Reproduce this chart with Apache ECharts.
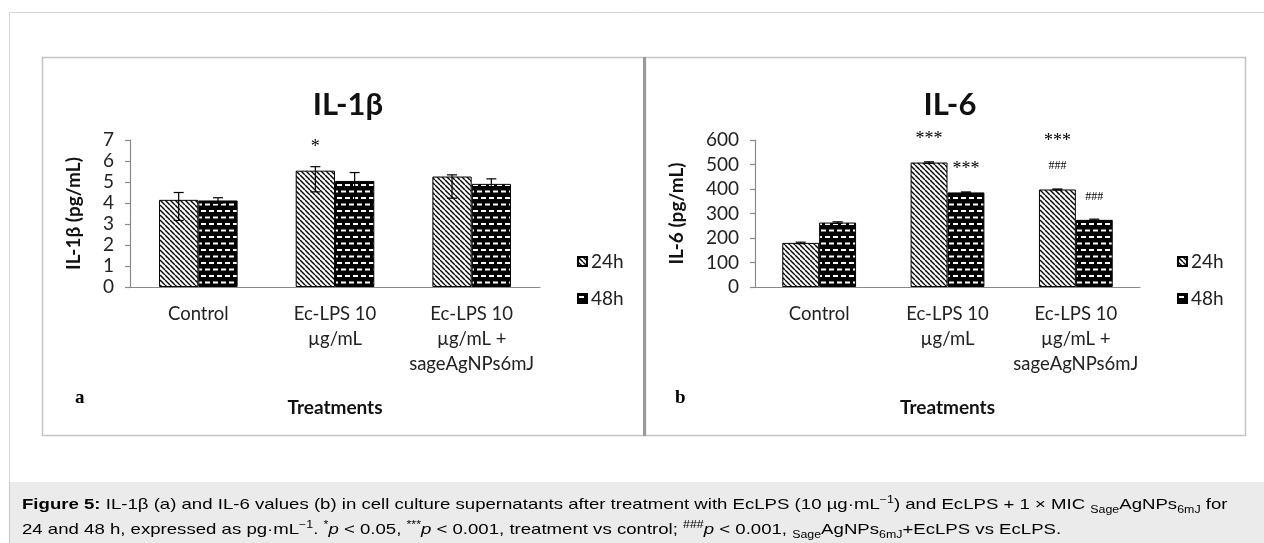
<!DOCTYPE html>
<html>
<head>
<meta charset="utf-8">
<style>
  html, body { margin: 0; padding: 0; background: #fff; }
  #chart { width: 1264px; height: 543px; }
</style>
<script src="https://cdn.jsdelivr.net/npm/echarts@6/dist/echarts.min.js"></script>
</head>
<body>
<div id="chart"></div>
<script>
  // categories of both panels
  const categories = ['Control', 'Ec-LPS 10\nµg/mL', 'Ec-LPS 10\nµg/mL +\nsageAgNPs6mJ']
  const seriesNames = ['24h', '48h']

  // panel a, IL-1β (pg/mL)
  const il1b24 = [4.15, 5.54, 5.26]
  const il1b24Low = [3.17, 4.53, 4.23]
  const il1b24High = [4.50, 5.73, 5.34]
  const il1b48 = [4.12, 5.05, 4.91]
  const il1b48Low = [3.99, 4.05, 4.67]
  const il1b48High = [4.25, 5.45, 5.15]
  const il1bNotes24 = ['', '*', '']
  const il1bNotes48 = ['', '', '']

  // panel b, IL-6 (pg/mL)
  const il624 = [180, 508, 398]
  const il624Low = [177, 505, 396]
  const il624High = [183, 511, 400]
  const il648 = [263, 386, 274]
  const il648Low = [260, 384, 272]
  const il648High = [266, 388, 277]
  const il6Notes24 = ['', '***', '***\n{h|###}']
  const il6Notes48 = ['', '***', '{h|###}']

  const il1bTicks = { min: 0, max: 7, interval: 1 }
  const il6Ticks = { min: 0, max: 600, interval: 100 }

  const FONT = 'Lato'
  const AXIS_GREY = '#8a8a8a'

  // diagonal hatch for 24h
  const makeHatch = () => {
    const c = document.createElement('canvas')
    const s = 5
    c.width = s
    c.height = s
    const ctx = c.getContext('2d')
    ctx.fillStyle = '#fff'
    ctx.fillRect(0, 0, s, s)
    ctx.strokeStyle = '#000'
    ctx.lineWidth = 1.4
    for (let k = -1; k <= 1; k++) {
      ctx.beginPath()
      ctx.moveTo(0, k * s)
      ctx.lineTo(s, s + k * s)
      ctx.stroke()
    }
    return c
  }

  // black with white dashes for 48h
  const makeDashes = () => {
    const c = document.createElement('canvas')
    c.width = 8
    c.height = 13
    const ctx = c.getContext('2d')
    ctx.fillStyle = '#000'
    ctx.fillRect(0, 0, 8, 13)
    ctx.fillStyle = '#fff'
    ctx.fillRect(1, 2, 5, 2)
    ctx.fillRect(5, 8.5, 3, 2)
    ctx.fillRect(0, 8.5, 2, 2)
    return c
  }

  const pattern24 = { image: makeHatch(), repeat: 'repeat' }
  const pattern48 = { image: makeDashes(), repeat: 'repeat' }

  const barSeries = (idx, name, values, notes, pattern) => ({
    type: 'bar',
    name: name,
    xAxisIndex: idx,
    yAxisIndex: idx,
    barGap: '0%',
    barCategoryGap: '42.5%',
    data: values,
    itemStyle: { color: pattern, borderColor: '#000', borderWidth: 1 },
    label: {
      show: true,
      position: 'top',
      distance: 11,
      color: '#000',
      fontFamily: 'Liberation Serif',
      fontSize: 18,
      lineHeight: 25,
      formatter: (p) => notes[p.dataIndex],
      rich: { h: { fontFamily: 'Liberation Serif', fontSize: 12, lineHeight: 25 } }
    },
    emphasis: { disabled: true }
  })

  // error bars drawn over the bar of one series (side -1 = left bar, 1 = right bar)
  const errorSeries = (idx, low, high, side) => ({
    type: 'custom',
    xAxisIndex: idx,
    yAxisIndex: idx,
    z: 5,
    silent: true,
    data: low.map((l, i) => [i, l, high[i]]),
    encode: { x: 0, y: [1, 2] },
    renderItem: (params, api) => {
      const band = api.size([1, 0])[0]
      const top = api.coord([api.value(0), api.value(2)])
      const bot = api.coord([api.value(0), api.value(1)])
      const x = top[0] + side * band * 0.14375
      const st = { stroke: '#000', lineWidth: 1.2 }
      return {
        type: 'group',
        children: [
          { type: 'line', shape: { x1: x, y1: top[1], x2: x, y2: bot[1] }, style: st },
          { type: 'line', shape: { x1: x - 5, y1: top[1], x2: x + 5, y2: top[1] }, style: st },
          { type: 'line', shape: { x1: x - 5, y1: bot[1], x2: x + 5, y2: bot[1] }, style: st }
        ]
      }
    }
  })

  const xAxisCfg = (idx) => ({
    type: 'category',
    gridIndex: idx,
    data: categories,
    axisLine: { lineStyle: { color: AXIS_GREY, width: 1.2 } },
    axisTick: { length: 6, lineStyle: { color: AXIS_GREY, width: 1.2 } },
    axisLabel: { interval: 0, color: '#222', fontFamily: FONT, fontSize: 18.5, lineHeight: 25, margin: 15 },
    name: 'Treatments',
    nameLocation: 'middle',
    nameGap: 111,
    nameTextStyle: { color: '#111', fontFamily: FONT, fontWeight: 'bold', fontSize: 19 }
  })

  const yAxisCfg = (idx, ticks, name, gap) => ({
    type: 'value',
    gridIndex: idx,
    min: ticks.min,
    max: ticks.max,
    interval: ticks.interval,
    axisLine: { show: true, lineStyle: { color: AXIS_GREY, width: 1.2 } },
    axisTick: { show: true, length: 5, lineStyle: { color: AXIS_GREY, width: 1.2 } },
    splitLine: { show: false },
    axisLabel: { color: '#222', fontFamily: FONT, fontSize: 19, margin: 16 },
    name: name,
    nameLocation: 'middle',
    nameRotate: 90,
    nameGap: gap,
    nameTextStyle: { color: '#111', fontFamily: FONT, fontWeight: 'bold', fontSize: 19 }
  })

  const legendCfg = (left) => ({
    data: seriesNames,
    orient: 'vertical',
    left: left,
    top: 247,
    itemWidth: 9,
    itemHeight: 9,
    itemGap: 18,
    icon: 'rect',
    selectedMode: false,
    textStyle: { color: '#222', fontFamily: FONT, fontSize: 19, padding: [0, 0, 0, -1] }
  })

  const CAP_FONT = 'Liberation Sans'
  const captionRich = {
    b: { fontFamily: CAP_FONT, fontSize: 15, fontWeight: 'bold', color: '#222' },
    t: { fontFamily: CAP_FONT, fontSize: 15, color: '#222' },
    i: { fontFamily: CAP_FONT, fontSize: 15, fontStyle: 'italic', color: '#222' },
    sup: { fontFamily: CAP_FONT, fontSize: 10, color: '#222', verticalAlign: 'top' },
    sub: { fontFamily: CAP_FONT, fontSize: 10, color: '#222', verticalAlign: 'bottom' }
  }
  const captionLine1 = '{b|Figure 5:}{t| IL-1β (a) and IL-6 values (b) in cell culture supernatants after treatment with EcLPS (10 µg·mL}{sup|−1}{t|) and EcLPS + 1 × MIC }{sub|Sage}{t|AgNPs}{sub|6mJ}{t| for}'
  const captionLine2 = '{t|24 and 48 h, expressed as pg·mL}{sup|−1}{t|. }{sup|*}{i|p}{t| < 0.05, }{sup|***}{i|p}{t| < 0.001, treatment vs control; }{sup|###}{i|p}{t| < 0.001, }{sub|Sage}{t|AgNPs}{sub|6mJ}{t|+EcLPS vs EcLPS.}'

  const chartDom = echarts.init(document.getElementById('chart'))
  chartDom.setOption({
    animation: false,
    backgroundColor: '#fff',
    grid: [
      { left: 130, top: 140, width: 410, height: 147 },
      { left: 755, top: 140, width: 385, height: 147 }
    ],
    xAxis: [xAxisCfg(0), xAxisCfg(1)],
    yAxis: [
      yAxisCfg(0, il1bTicks, 'IL-1β (pg/mL)', 47),
      yAxisCfg(1, il6Ticks, 'IL-6 (pg/mL)', 69)
    ],
    legend: [legendCfg(572), legendCfg(1172)],
    title: [
      { text: 'IL-1β', left: 343, top: 84, textAlign: 'center', textStyle: { fontFamily: FONT, fontWeight: 'bold', fontSize: 31, color: '#111' } },
      { text: 'IL-6', left: 945, top: 84, textAlign: 'center', textStyle: { fontFamily: FONT, fontWeight: 'bold', fontSize: 31, color: '#111' } }
    ],
    series: [
      barSeries(0, '24h', il1b24, il1bNotes24, pattern24),
      barSeries(0, '48h', il1b48, il1bNotes48, pattern48),
      errorSeries(0, il1b24Low, il1b24High, -1),
      errorSeries(0, il1b48Low, il1b48High, 1),
      barSeries(1, '24h', il624, il6Notes24, pattern24),
      barSeries(1, '48h', il648, il6Notes48, pattern48),
      errorSeries(1, il624Low, il624High, -1),
      errorSeries(1, il648Low, il648High, 1)
    ],
    graphic: [
      { type: 'rect', z: -10, shape: { x: 9.5, y: 12.5, width: 1260, height: 540 }, style: { fill: '#fff', stroke: '#d6d6d6', lineWidth: 1 } },
      { type: 'rect', z: -9, shape: { x: 42.5, y: 57.5, width: 602, height: 378 }, style: { fill: '#fff', stroke: '#c4c4c4', lineWidth: 1.5 } },
      { type: 'rect', z: -9, shape: { x: 645.5, y: 57.5, width: 600, height: 378 }, style: { fill: '#fff', stroke: '#c4c4c4', lineWidth: 1.5 } },
      { type: 'line', z: -8, shape: { x1: 644.5, y1: 57, x2: 644.5, y2: 436 }, style: { stroke: '#9a9a9a', lineWidth: 3 } },
      { type: 'text', style: { x: 75, y: 398, text: 'a', fontFamily: 'Liberation Serif', fontWeight: 'bold', fontSize: 19, fill: '#000', verticalAlign: 'middle' } },
      { type: 'text', style: { x: 675, y: 398, text: 'b', fontFamily: 'Liberation Serif', fontWeight: 'bold', fontSize: 19, fill: '#000', verticalAlign: 'middle' } },
      { type: 'rect', z: -9, shape: { x: 9, y: 482, width: 1255, height: 61 }, style: { fill: '#ebebeb' } },
      { type: 'line', z: -8, shape: { x1: 9.5, y1: 482, x2: 9.5, y2: 543 }, style: { stroke: '#c8c8c8', lineWidth: 1 } },
      { type: 'text', x: 22, y: 505, scaleX: 1.24, style: { x: 0, y: 0, text: captionLine1, rich: captionRich, verticalAlign: 'middle', lineHeight: 20 } },
      { type: 'text', x: 22, y: 530, scaleX: 1.24, style: { x: 0, y: 0, text: captionLine2, rich: captionRich, verticalAlign: 'middle', lineHeight: 20 } }
    ]
  })
</script>
</body>
</html>
